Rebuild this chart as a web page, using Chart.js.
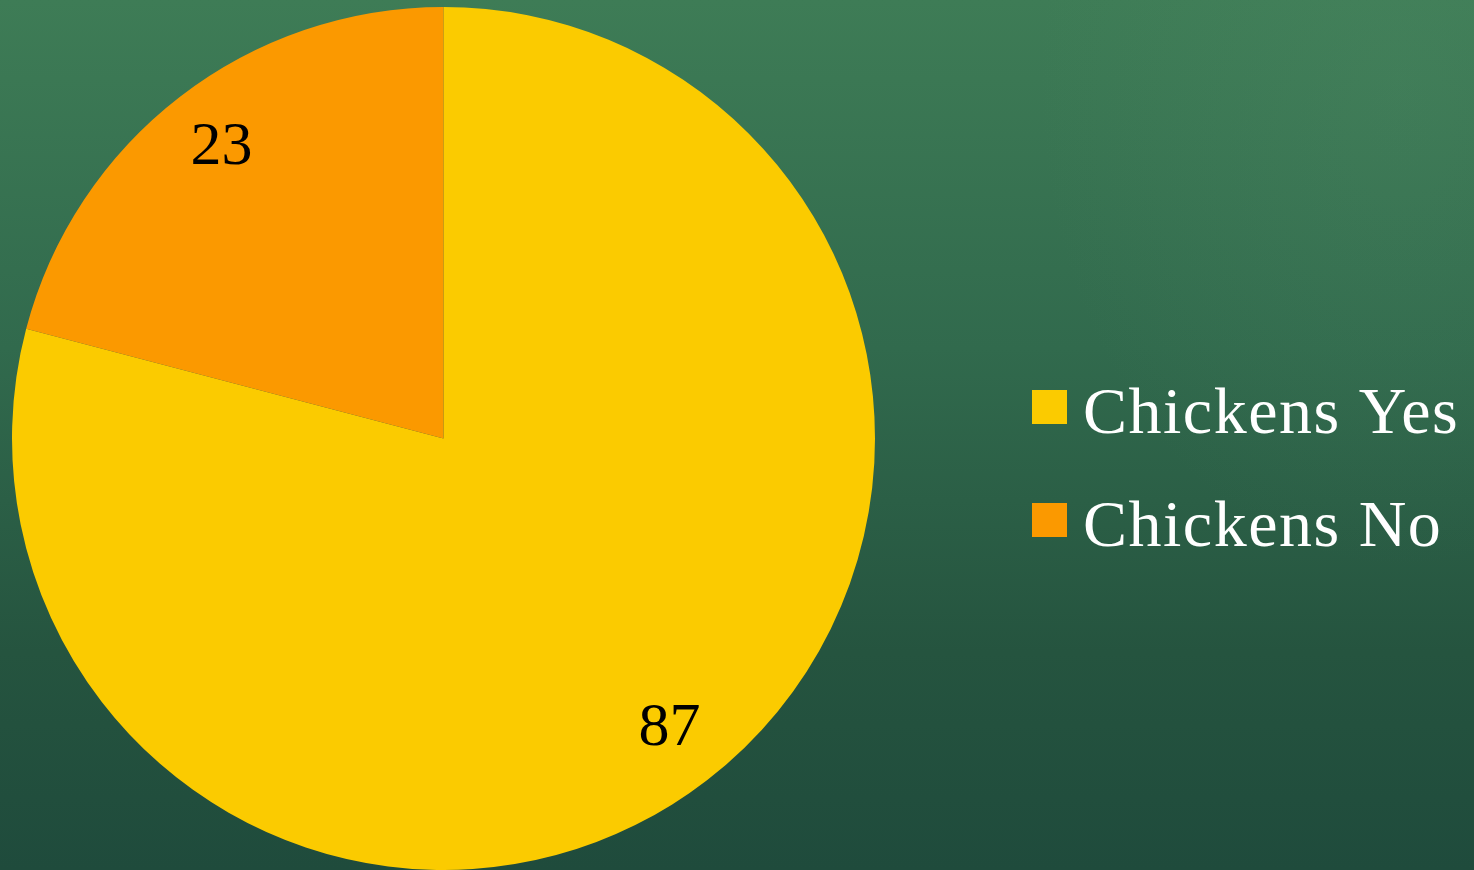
<!DOCTYPE html>
<html>
<head>
<meta charset="utf-8">
<script src="https://cdn.jsdelivr.net/npm/chart.js@4"></script>
<style>
html,body{margin:0;padding:0;width:1474px;height:870px;overflow:hidden;}
body{
  background:
    radial-gradient(ellipse 520px 700px at 1400px 80px, rgba(90,150,110,0.18), rgba(90,150,110,0) 70%),
    linear-gradient(180deg,#3e7c56 0%,#316a4d 40%,#25543f 75%,#1f4b3c 100%);
}
#wrap{position:absolute;left:0;top:0;width:1474px;height:870px;}
</style>
</head>
<body>
<div id="wrap"><canvas id="c" width="1474" height="870"></canvas></div>
<script>
const categories = ["Chickens Yes", "Chickens No"];
const values = [87, 23];
const colors = ["#fbcb00", "#fb9900"];

const FONT = "'Liberation Serif', 'DejaVu Serif', serif";

const valueLabels = {
  id: 'valueLabels',
  afterDatasetsDraw(chart) {
    const ctx = chart.ctx;
    const meta = chart.getDatasetMeta(0);
    ctx.save();
    ctx.fillStyle = '#000';
    ctx.font = '62px ' + FONT;
    ctx.textAlign = 'center';
    ctx.textBaseline = 'middle';
    meta.data.forEach((arc, i) => {
      const p = arc.getProps(['x','y','startAngle','endAngle','outerRadius'], true);
      const mid = (p.startAngle + p.endAngle) / 2;
      const r = p.outerRadius * 0.85;
      ctx.fillText(String(chart.data.datasets[0].data[i]), p.x + Math.cos(mid) * r + 2, p.y + Math.sin(mid) * r);
    });
    ctx.restore();
  }
};

const sideLegend = {
  id: 'sideLegend',
  afterDraw(chart) {
    const ctx = chart.ctx;
    ctx.save();
    ctx.font = '66px ' + FONT;
    if ('letterSpacing' in ctx) ctx.letterSpacing = '1.5px';
    ctx.textBaseline = 'alphabetic';
    ctx.textAlign = 'left';
    const boxX = 1032, boxSize = 35, textX = 1083;
    const baselines = [433, 546];
    chart.data.labels.forEach((lab, i) => {
      const bl = baselines[i];
      ctx.fillStyle = chart.data.datasets[0].backgroundColor[i];
      ctx.fillRect(boxX, bl - 43, boxSize, 34);
      ctx.fillStyle = '#ffffff';
      ctx.fillText(lab, textX, bl);
    });
    ctx.restore();
  }
};

new Chart(document.getElementById('c'), {
  type: 'pie',
  data: {
    labels: categories,
    datasets: [{
      data: values,
      backgroundColor: colors,
      borderWidth: 0
    }]
  },
  options: {
    responsive: false,
    animation: false,
    layout: { padding: { left: 12, top: 7, right: 599, bottom: 0 } },
    plugins: {
      legend: { display: false },
      tooltip: { enabled: false }
    }
  },
  plugins: [valueLabels, sideLegend]
});
</script>
</body>
</html>
